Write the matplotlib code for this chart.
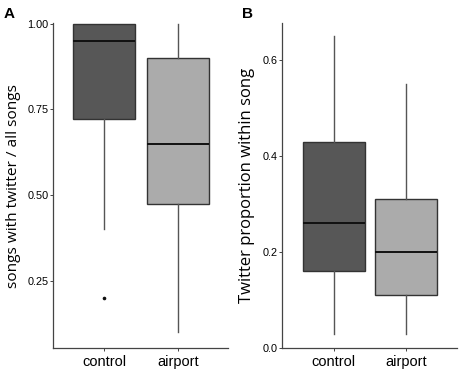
import matplotlib.pyplot as plt

groups = ['control', 'airport']
box_colors = ['#575757', '#ababab']

# panel A: songs with twitter / all songs
a_low = [0.40, 0.10]
a_q1 = [0.723, 0.475]
a_med = [0.95, 0.65]
a_q3 = [1.00, 0.90]
a_high = [1.00, 1.00]
a_outliers = [[0.20], []]

# panel B: twitter proportion within song
b_low = [0.03, 0.03]
b_q1 = [0.16, 0.11]
b_med = [0.26, 0.20]
b_q3 = [0.43, 0.31]
b_high = [0.65, 0.55]
b_outliers = [[], []]


def make_stats(low, q1, med, q3, high, fliers):
    stats = []
    for i in range(len(groups)):
        stats.append(dict(whislo=low[i], q1=q1[i], med=med[i], q3=q3[i],
                          whishi=high[i], fliers=fliers[i], label=groups[i]))
    return stats


def draw_panel(ax, stats, width):
    bp = ax.bxp(stats, positions=[1, 2], widths=width, patch_artist=True,
                showcaps=False,
                boxprops=dict(edgecolor='#333333', linewidth=1.0),
                medianprops=dict(color='#111111', linewidth=1.4),
                whiskerprops=dict(color='#555555', linewidth=1.0),
                flierprops=dict(marker='o', markersize=1.6, markerfacecolor='#111111',
                                markeredgecolor='#111111'),
                zorder=2)
    for patch, c in zip(bp['boxes'], box_colors):
        patch.set_facecolor(c)
    for s in ['top', 'right']:
        ax.spines[s].set_visible(False)
    for s in ['left', 'bottom']:
        ax.spines[s].set_color('#444444')
        ax.spines[s].set_linewidth(0.9)
    ax.tick_params(axis='y', labelsize=7.8, length=2, width=0.7, color='#444444', pad=1)
    ax.tick_params(axis='x', labelsize=10.5, length=2, width=0.7, color='#444444', pad=3)
    for lab in ax.get_xticklabels() + ax.get_yticklabels():
        lab.set_family('Liberation Sans')


fig = plt.figure(figsize=(4.59, 3.75), dpi=100)

axA = fig.add_axes([0.1148, 0.072, 0.382, 0.866])
draw_panel(axA, make_stats(a_low, a_q1, a_med, a_q3, a_high, a_outliers), 0.835)
axA.set_xlim(0.31, 2.67)
axA.set_ylim(0.053, 1.002)
axA.set_yticks([0.25, 0.50, 0.75, 1.00])
axA.set_yticklabels(['0.25', '0.50', '0.75', '1.00'])
axA.set_ylabel('songs with twitter / all songs', fontsize=11.1, family='Open Sans', labelpad=4.5)
fig.text(0.007, 0.953, 'A', fontsize=11, fontweight='bold', family='Liberation Sans')

axB = fig.add_axes([0.615, 0.0712, 0.380, 0.868])
draw_panel(axB, make_stats(b_low, b_q1, b_med, b_q3, b_high, b_outliers), 0.86)
axB.set_xlim(0.29, 2.70)
axB.set_ylim(0.0, 0.678)
axB.set_yticks([0.0, 0.2, 0.4, 0.6])
axB.set_yticklabels(['0.0', '0.2', '0.4', '0.6'])
axB.set_ylabel('Twitter proportion within song', fontsize=12, family='Open Sans', labelpad=6)
fig.text(0.527, 0.953, 'B', fontsize=11, fontweight='bold', family='Liberation Sans')

fig.savefig('out.png', dpi=100)
